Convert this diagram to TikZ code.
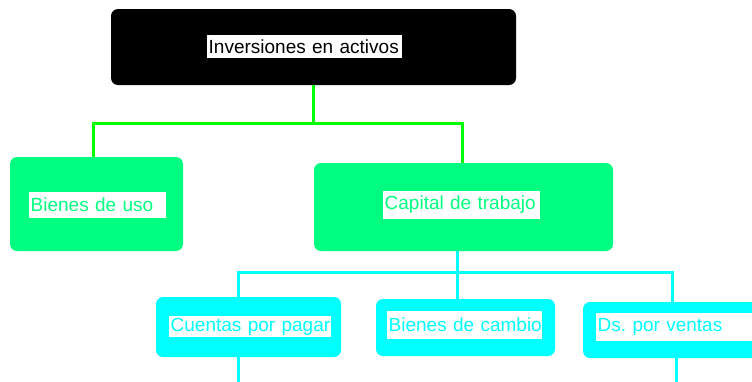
\documentclass[tikz,border=0pt]{standalone}
\usepackage{fontspec}
\setmainfont{Liberation Sans}
\usetikzlibrary{positioning}
\definecolor{boxgreen}{RGB}{0, 255, 128}
\definecolor{linegreen}{RGB}{0, 255, 0}
\definecolor{boxcyan}{RGB}{0, 255, 255}

\begin{document}
\begin{tikzpicture}[
  x=1pt, y=-1pt,
  box/.style={rounded corners=7pt, inner sep=0pt},
  blackbox/.style={box, fill=black},
  greenbox/.style={box, fill=boxgreen},
  cyanbox/.style={box, fill=boxcyan},
  lbl/.style={fill=white, anchor=west, inner xsep=1.5pt, inner ysep=0pt, align=left,
    font=\fontsize{19}{22}\selectfont\frenchspacing},
  greenline/.style={linegreen, line width=3pt},
  cyanline/.style={boxcyan, line width=3pt}
]
  \useasboundingbox (0,0) rectangle (752,381);
  \clip (0,0) rectangle (752,381);

  % Top level
  \node[blackbox, minimum width=405, minimum height=76] (activos) at (313.5,47) {};
  \node[lbl, text=black, text width=192, minimum height=23] (lactivos) at (207,46.5) {\mbox{Inversiones en activos}};

  % Second level
  \node[greenbox, minimum width=173, minimum height=94] (bienesuso) at (96.5,204) {};
  \node[lbl, text=boxgreen, text width=134, minimum height=26] (lbienesuso) at (29,205) {\mbox{Bienes de uso}};

  \node[greenbox, minimum width=299, minimum height=88] (capital) at (463.5,207) {};
  \node[lbl, text=boxgreen, text width=154, minimum height=28] (lcapital) at (383,205) {\mbox{Capital de trabajo}};

  % Third level
  \node[cyanbox, minimum width=185, minimum height=60] (cuentas) at (248.5,327) {};
  \node[lbl, text=boxcyan, text width=159, minimum height=21] (lcuentas) at (169,326.5) {\mbox{Cuentas por pagar}};

  \node[cyanbox, minimum width=179, minimum height=57] (cambio) at (465.5,327.5) {};
  \node[lbl, text=boxcyan, text width=152, minimum height=28] (lcambio) at (387,325) {\mbox{Bienes de cambio}};

  \node[cyanbox, minimum width=200, minimum height=56] (ventas) at (683,330) {};
  \node[lbl, text=boxcyan, text width=170, minimum height=28] (lventas) at (596,327) {\mbox{Ds. por ventas}};

  % Connectors
  \draw[greenline] (activos.south) -- ++(0,38) -| ([xshift=-3.5]bienesuso.north);
  \draw[greenline] (activos.south) -- ++(0,38) -| ([xshift=-1.5]capital.north);

  \draw[cyanline] ([xshift=-6.5]capital.south) -- ++(0,21) -| ([xshift=-10.5]cuentas.north);
  \draw[cyanline] ([xshift=-6.5]capital.south) -- ++(0,21) -| ([xshift=-11]ventas.north);
  \draw[cyanline] ([xshift=-6.5]capital.south) -- ([xshift=-8.5]cambio.north);

  % Branches going on below
  \coordinate (belowcuentas) at ([xshift=-10.5,yshift=-30]cuentas.south);
  \coordinate (belowventas) at ([xshift=-7,yshift=-30]ventas.south);
  \draw[cyanline] ([xshift=-10.5]cuentas.south) -- (belowcuentas);
  \draw[cyanline] ([xshift=-7]ventas.south) -- (belowventas);
\end{tikzpicture}
\end{document}
